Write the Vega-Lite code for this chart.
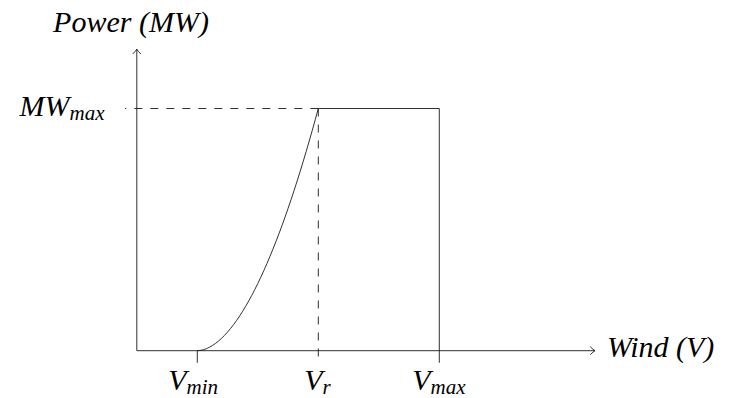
{
  "$schema": "https://vega.github.io/schema/vega-lite/v6.json",
  "width": 730,
  "height": 398,
  "autosize": "none",
  "padding": 0,
  "background": "white",
  "config": {"view": {"stroke": null}},
  "datasets": {
    "segments": [
      {"line": "axis", "x": 0, "y": 0, "x2": 7.574, "y2": 0},
      {"line": "axis", "x": 0, "y": 0, "x2": 0, "y2": 1.245},
      {"line": "tick", "x": 1, "y": 0, "x2": 1, "y2": -0.05},
      {"line": "rated", "x": 3, "y": 1, "x2": -0.195, "y2": 1},
      {"line": "rated", "x": 3, "y": 1, "x2": 3, "y2": -0.05},
      {"line": "cutout", "x": 3, "y": 1, "x2": 5, "y2": 1},
      {"line": "cutout", "x": 5, "y": 1, "x2": 5, "y2": -0.05}
    ],
    "curve": [
      {"x": 1.0, "y": 0},
      {"x": 1.1, "y": 0.0039},
      {"x": 1.2, "y": 0.0141},
      {"x": 1.3, "y": 0.0299},
      {"x": 1.4, "y": 0.0509},
      {"x": 1.5, "y": 0.0769},
      {"x": 1.6, "y": 0.1078},
      {"x": 1.7, "y": 0.1434},
      {"x": 1.8, "y": 0.1836},
      {"x": 1.9, "y": 0.2283},
      {"x": 2.0, "y": 0.2774},
      {"x": 2.1, "y": 0.3309},
      {"x": 2.2, "y": 0.3887},
      {"x": 2.3, "y": 0.4507},
      {"x": 2.4, "y": 0.5169},
      {"x": 2.5, "y": 0.5873},
      {"x": 2.6, "y": 0.6618},
      {"x": 2.7, "y": 0.7403},
      {"x": 2.8, "y": 0.8229},
      {"x": 2.9, "y": 0.9095},
      {"x": 3.0, "y": 1}
    ],
    "arrows": [
      {"axis": "Wind", "x": 7.574, "y": 0},
      {"axis": "Power", "x": 0, "y": 1.245}
    ],
    "titles": [
      {"axis": "Power", "text": "Power (MW)", "x": -0.096, "y": 1.3171},
      {"axis": "Wind", "text": "Wind (V)", "x": 7.77, "y": -0.026}
    ],
    "symbols": [
      {"name": "MW", "sub": "max", "x": -1.112, "y": 0.969, "ysub": 0.9513},
      {"name": "V", "sub": "min", "x": 0.821, "y": -0.1623, "ysub": -0.1788},
      {"name": "V", "sub": "r", "x": 3.071, "y": -0.1623, "ysub": -0.1788},
      {"name": "V", "sub": "max", "x": 4.856, "y": -0.1623, "ysub": -0.1788}
    ]
  },
  "encoding": {
    "x": {"field": "x", "type": "quantitative", "scale": {"domain": [-2.2612, 9.805], "nice": false, "zero": false}, "axis": null},
    "y": {"field": "y", "type": "quantitative", "scale": {"domain": [-0.19529, 1.44798], "nice": false, "zero": false}, "axis": null}
  },
  "layer": [
    {
      "data": {"name": "segments"},
      "transform": [{"filter": "datum.line !== 'rated'"}],
      "mark": {"type": "rule", "color": "#1a1a1a", "strokeWidth": 0.9},
      "encoding": {"x2": {"field": "x2"}, "y2": {"field": "y2"}}
    },
    {
      "data": {"name": "segments"},
      "transform": [{"filter": "datum.line === 'rated'"}],
      "mark": {"type": "rule", "color": "#1a1a1a", "strokeWidth": 0.9, "strokeDash": [8, 8]},
      "encoding": {"x2": {"field": "x2"}, "y2": {"field": "y2"}}
    },
    {
      "data": {"name": "curve"},
      "mark": {"type": "line", "color": "#1a1a1a", "strokeWidth": 0.9, "interpolate": "monotone"},
      "encoding": {"order": {"field": "x", "type": "quantitative"}}
    },
    {
      "data": {"name": "arrows"},
      "mark": {"type": "point", "filled": false, "color": "#1a1a1a", "strokeWidth": 0.9, "opacity": 1},
      "encoding": {
        "shape": {
          "field": "axis",
          "type": "nominal",
          "legend": null,
          "scale": {
            "domain": ["Wind", "Power"],
            "range": ["M -1.2 -1 Q -0.45 -0.25 0 0 Q -0.45 0.25 -1.2 1", "M -1 1.2 Q -0.25 0.45 0 0 Q 0.25 0.45 1 1.2"]
          }
        },
        "size": {"value": 64}
      }
    },
    {
      "data": {"name": "titles"},
      "transform": [{"filter": "datum.axis === 'Power'"}],
      "mark": {"type": "text", "font": "Liberation Serif", "fontStyle": "italic", "fontSize": 30, "align": "center", "baseline": "alphabetic", "color": "#000"},
      "encoding": {"text": {"field": "text"}}
    },
    {
      "data": {"name": "titles"},
      "transform": [{"filter": "datum.axis === 'Wind'"}],
      "mark": {"type": "text", "font": "Liberation Serif", "fontStyle": "italic", "fontSize": 30, "align": "left", "baseline": "alphabetic", "color": "#000"},
      "encoding": {"text": {"field": "text"}}
    },
    {
      "data": {"name": "symbols"},
      "mark": {"type": "text", "font": "Liberation Serif", "fontStyle": "italic", "fontSize": 30, "align": "right", "baseline": "alphabetic", "color": "#000"},
      "encoding": {"text": {"field": "name"}}
    },
    {
      "data": {"name": "symbols"},
      "mark": {"type": "text", "font": "Liberation Serif", "fontStyle": "italic", "fontSize": 21, "align": "left", "baseline": "alphabetic", "color": "#000"},
      "encoding": {"text": {"field": "sub"}, "y": {"field": "ysub", "type": "quantitative"}}
    }
  ]
}
